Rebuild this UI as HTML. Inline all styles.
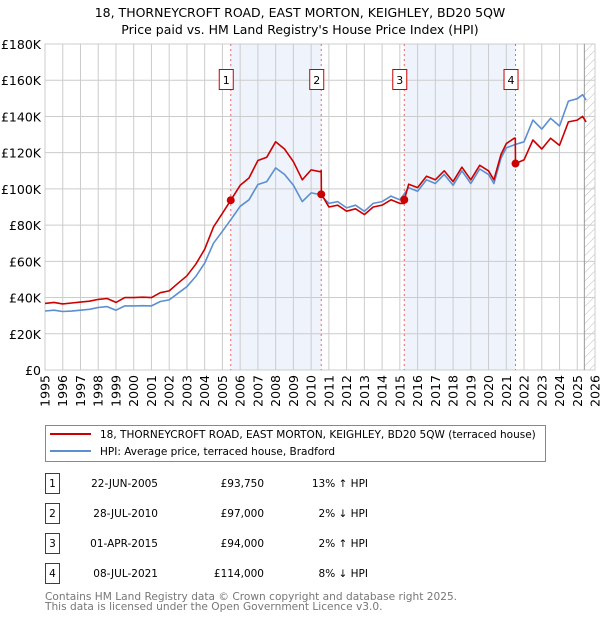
<!DOCTYPE html>
<html><head><meta charset="utf-8"><style>
body{margin:0;background:#fff;font-family:"Liberation Sans","DejaVu Sans",sans-serif;}
svg text{font-family:"DejaVu Sans","Liberation Sans",sans-serif;}
</style></head><body>
<svg id="chart" width="600" height="620" xmlns="http://www.w3.org/2000/svg">
<defs><pattern id="hatch" width="6" height="6" patternUnits="userSpaceOnUse" patternTransform="rotate(45)"><line x1="0" y1="0" x2="0" y2="6" stroke="#bbb" stroke-width="1"/></pattern></defs>
<text x="300" y="17" text-anchor="middle" font-size="12.5">18, THORNEYCROFT ROAD, EAST MORTON, KEIGHLEY, BD20 5QW</text>
<text x="300" y="34" text-anchor="middle" font-size="12.5">Price paid vs. HM Land Registry's House Price Index (HPI)</text>
<g id="plot"></g>
<g id="legend">
<rect x="45.5" y="425.5" width="500" height="36" fill="#fff" stroke="#888"/>
<line x1="50" y1="434" x2="91" y2="434" stroke="#cc0000" stroke-width="2"/>
<text x="100" y="438" font-size="10.5">18, THORNEYCROFT ROAD, EAST MORTON, KEIGHLEY, BD20 5QW (terraced house)</text>
<line x1="50" y1="451" x2="91" y2="451" stroke="#5b8fd0" stroke-width="2"/>
<text x="100" y="455" font-size="10.5">HPI: Average price, terraced house, Bradford</text>
</g>
<g id="table"></g>
<text x="45" y="600" font-size="10.6" fill="#777">Contains HM Land Registry data © Crown copyright and database right 2025.</text>
<text x="45" y="610" font-size="10.6" fill="#777">This data is licensed under the Open Government Licence v3.0.</text>
</svg>
<script>
const hpiDates=[1995,1995.5,1996,1996.5,1997,1997.5,1998,1998.5,1999,1999.5,2000,2000.5,2001,2001.5,2002,2002.5,2003,2003.5,2004,2004.5,2005,2005.47,2006,2006.5,2007,2007.5,2008,2008.5,2009,2009.5,2010,2010.5,2011,2011.5,2012,2012.5,2013,2013.5,2014,2014.5,2015,2015.5,2016,2016.5,2017,2017.5,2018,2018.5,2019,2019.5,2020,2020.3,2020.7,2021,2021.5,2022,2022.5,2023,2023.5,2024,2024.5,2025,2025.3,2025.5];
const hpiValues=[32.6,33,32.3,32.5,33,33.5,34.5,35,33,35.4,35.4,35.5,35.4,37.8,38.7,42.4,46,51.7,59,70,76.6,83,90.4,94,102.4,104,111.6,108,102,93,97.8,96.9,92,93,89.5,91,87.6,92,93,96,94,100.6,98.7,105,103,108,102,110,103,111,108,103,117,122.7,124.5,126,138,133,139,134.7,148.5,149.8,152,149];
const priceDates=[1995,1995.5,1996,1996.5,1997,1997.5,1998,1998.5,1999,1999.5,2000,2000.5,2001,2001.5,2002,2002.5,2003,2003.5,2004,2004.5,2005,2005.47,2006,2006.5,2007,2007.5,2008,2008.5,2009,2009.5,2010,2010.5,2010.57,2010.58,2011,2011.5,2012,2012.5,2013,2013.5,2014,2014.5,2015,2015.24,2015.25,2015.5,2016,2016.5,2017,2017.5,2018,2018.5,2019,2019.5,2020,2020.3,2020.7,2021,2021.45,2021.51,2021.52,2022,2022.5,2023,2023.5,2024,2024.5,2025,2025.3,2025.5];
const priceValues=[36.8,37.3,36.5,37,37.5,38,39,39.5,37.3,40,40,40.2,40,42.7,43.7,47.9,52,58.4,66.7,79,86.5,93.75,102,106,115.7,117.5,126,122,115,105,110.5,109.5,110,97,90,91,87.7,89,85.8,90,91,94,92,92,94,102.6,100.7,107,105,110,104,112,105,113,110,105,119,125,128,128,114,116,127,122,128,124,137,138,140,137];
const saleLabels=["1","2","3","4"];
const saleDates=[2005.47,2010.57,2015.25,2021.52];
const saleValues=[93.75,97,94,114];
const saleDateText=["22-JUN-2005","28-JUL-2010","01-APR-2015","08-JUL-2021"];
const salePriceText=["£93,750","£97,000","£94,000","£114,000"];
const saleHpiText=["13% ↑ HPI","2% ↓ HPI","2% ↑ HPI","8% ↓ HPI"];
const yTicks=[0,20,40,60,80,100,120,140,160,180];
const yTickLabels=["£0","£20K","£40K","£60K","£80K","£100K","£120K","£140K","£160K","£180K"];
const xTicks=[1995,1996,1997,1998,1999,2000,2001,2002,2003,2004,2005,2006,2007,2008,2009,2010,2011,2012,2013,2014,2015,2016,2017,2018,2019,2020,2021,2022,2023,2024,2025,2026];

const X0=45,X1=595,Y0=370,Y1=44;
const xs=t=>X0+(t-1995)/(2026-1995)*(X1-X0);
const ys=v=>Y0-v/180*(Y0-Y1);
const NS="http://www.w3.org/2000/svg";
function mk(p,tag,a){const e=document.createElementNS(NS,tag);for(const k in a)e.setAttribute(k,a[k]);p.appendChild(e);return e;}
const plot=document.getElementById('plot');
for(const [i,j] of [[0,1],[2,3]]){
  const r=mk(plot,'rect',{x:xs(saleDates[i]),y:Y1,width:xs(saleDates[j])-xs(saleDates[i]),height:Y0-Y1,fill:'#eef3fc'});
  
  
}
const hatch=mk(plot,'rect',{x:xs(2025.4),y:Y1,width:X1-xs(2025.4),height:Y0-Y1,fill:'url(#hatch)'});


yTicks.forEach((v,i)=>{
  const l=mk(plot,'line',{x1:X0,x2:X1,y1:ys(v),y2:ys(v),stroke:'#ccc'});
  
  
  const t=mk(plot,'text',{x:X0-4,y:ys(v)+5,'text-anchor':'end','font-size':'12.5'});
  t.textContent=yTickLabels[i];
  
  
});
xTicks.forEach(yr=>{
  const l=mk(plot,'line',{x1:xs(yr),x2:xs(yr),y1:Y1,y2:Y0,stroke:'#ccc'});
  
  
  const t=mk(plot,'text',{x:0,y:0,'text-anchor':'end','font-size':'12.5',transform:`translate(${xs(yr)+4.5},${Y0+5}) rotate(-90)`});
  t.textContent=yr;
  
  
});
const border=mk(plot,'rect',{x:X0,y:Y1,width:X1-X0,height:Y0-Y1,fill:'none',stroke:'#ccc'});


const cur=mk(plot,'line',{x1:xs(2025.4),x2:xs(2025.4),y1:Y1,y2:Y0,stroke:'#999'});


saleDates.forEach((d,i)=>{
  const l=mk(plot,'line',{x1:xs(d),x2:xs(d),y1:Y1,y2:Y0,stroke:'#e66','stroke-dasharray':'2,3'});
  
  
});
const path=(ds,vs)=>ds.map((d,i)=>(i?'L':'M')+xs(d).toFixed(1)+','+ys(vs[i]).toFixed(1)).join('');
const hp=mk(plot,'path',{d:path(hpiDates,hpiValues),fill:'none',stroke:'#5b8fd0','stroke-width':1.6,'stroke-linejoin':'round'});


const pp=mk(plot,'path',{d:path(priceDates,priceValues),fill:'none',stroke:'#cc0000','stroke-width':1.6,'stroke-linejoin':'round'});


saleDates.forEach((d,i)=>{
  const c=mk(plot,'circle',{cx:xs(d),cy:ys(saleValues[i]),r:4,fill:'#cc0000'});
  
  
  const g=mk(plot,'g',{});
  
  
  mk(g,'rect',{x:xs(d)-11.5,y:69.5,width:14,height:20,fill:'#fff',stroke:'#cc0000'});
  const t=mk(g,'text',{x:xs(d)-4.5,y:84,'text-anchor':'middle','font-size':'11'});
  t.textContent=saleLabels[i];
});
const tb=document.getElementById('table');
saleLabels.forEach((s,i)=>{
  const y=483+i*30;
  const g=mk(tb,'g',{});
  
  
  mk(g,'rect',{x:45.5,y:y-9.5,width:14,height:20,fill:'#fff',stroke:'#cc0000'});
  const a=mk(g,'text',{x:52.5,y:y+4,'text-anchor':'middle','font-size':'10.5'});a.textContent=s;
  const b=mk(g,'text',{x:158,y:y+4,'text-anchor':'end','font-size':'10.5'});b.textContent=saleDateText[i];
  const c=mk(g,'text',{x:264,y:y+4,'text-anchor':'end','font-size':'10.5'});c.textContent=salePriceText[i];
  const e=mk(g,'text',{x:368,y:y+4,'text-anchor':'end','font-size':'10.5'});e.textContent=saleHpiText[i];
});
</script>
</body></html>
